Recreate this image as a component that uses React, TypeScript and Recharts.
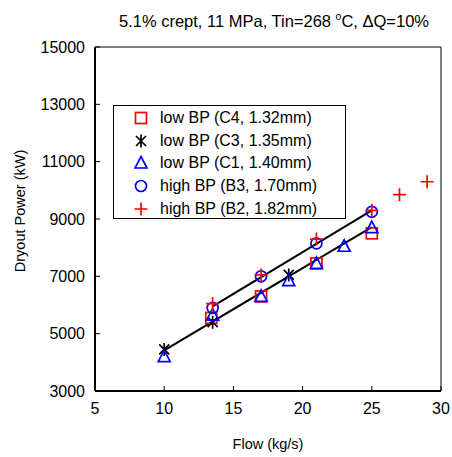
import React from 'react';
import {
  ComposedChart, Scatter, XAxis, YAxis, ReferenceArea,
} from 'recharts';

// flow (kg/s) and dryout power (kW)
const c4Flow = [13.4, 17, 21, 25];
const c4Power = [5550, 6300, 7450, 8500];

const c3Flow = [10, 13.5, 19];
const c3Power = [4450, 5400, 7050];

const c1Flow = [10, 13.5, 17, 19, 21, 23, 25];
const c1Power = [4200, 5650, 6300, 6850, 7450, 8050, 8700];

const b3Flow = [13.5, 17, 21, 25];
const b3Power = [5900, 7000, 8150, 9250];

const b2Flow = [13.5, 17, 21, 25, 27, 29];
const b2Power = [6050, 7050, 8300, 9300, 9850, 10300];

// the two straight fits
const highFitFlow = [13.5, 25];
const highFitPower = [5950, 9300];
const lowFitFlow = [10, 25];
const lowFitPower = [4420, 8720];

const xTicks = [5, 10, 15, 20, 25, 30];
const yTicks = [3000, 5000, 7000, 9000, 11000, 13000, 15000];

const FONT = '"Liberation Sans", Arial, sans-serif';

const toPts = (xs: number[], ys: number[]) => xs.map((x, i) => ({ x, y: ys[i] }));

const SERIES = [
  { key: 'c4', name: 'low BP (C4, 1.32mm)', color: '#ff0000', mark: 'square', data: toPts(c4Flow, c4Power) },
  { key: 'c3', name: 'low BP (C3, 1.35mm)', color: '#000000', mark: 'star', data: toPts(c3Flow, c3Power) },
  { key: 'c1', name: 'low BP (C1, 1.40mm)', color: '#0000ff', mark: 'triangle', data: toPts(c1Flow, c1Power) },
  { key: 'b3', name: 'high BP (B3, 1.70mm)', color: '#0000ff', mark: 'circle', data: toPts(b3Flow, b3Power) },
  { key: 'b2', name: 'high BP (B2, 1.82mm)', color: '#ff0000', mark: 'plus', data: toPts(b2Flow, b2Power) },
];

function Marker({ cx, cy, mark, color }: any) {
  if (cx == null || cy == null) return null;
  const sw = 1.7;
  if (mark === 'square') {
    return <rect x={cx - 5.5} y={cy - 5.5} width={11} height={11} fill="none" stroke={color} strokeWidth={sw} />;
  }
  if (mark === 'triangle') {
    return <path d={`M${cx},${cy - 6.5}L${cx + 6},${cy + 5}L${cx - 6},${cy + 5}Z`} fill="none" stroke={color} strokeWidth={sw} />;
  }
  if (mark === 'circle') {
    return <circle cx={cx} cy={cy} r={5.5} fill="none" stroke={color} strokeWidth={sw} />;
  }
  if (mark === 'plus') {
    return <path d={`M${cx - 6.5},${cy}H${cx + 6.5}M${cx},${cy - 6.5}V${cy + 6.5}`} stroke={color} strokeWidth={sw} />;
  }
  // asterisk
  return (
    <path
      d={`M${cx - 5},${cy - 5}L${cx + 5},${cy + 5}M${cx - 5},${cy + 5}L${cx + 5},${cy - 5}M${cx},${cy - 6.5}V${cy + 6.5}`}
      stroke={color}
      strokeWidth={sw}
    />
  );
}

function LegendBox() {
  return (
    <div style={{
      position: 'absolute', left: 113, top: 105,
      border: '1px solid #000', background: '#fff', width: 233, height: 114,
      boxSizing: 'border-box', paddingTop: 1, fontFamily: FONT, fontSize: 16,
    }}>
      {SERIES.map((s) => (
        <div key={s.key} style={{ display: 'flex', alignItems: 'center', height: 22.6 }}>
          <svg width={46} height={20} style={{ flex: 'none' }}>
            <Marker cx={27} cy={10} mark={s.mark} color={s.color} />
          </svg>
          <span style={{ color: '#000' }}>{s.name}</span>
        </div>
      ))}
    </div>
  );
}

export default function App() {
  return (
    <div style={{ position: 'absolute', left: 0, top: 0, width: 452, height: 457, background: '#fff', fontFamily: FONT }}>
      <div style={{
        position: 'absolute', left: 0, width: 548, top: 10, textAlign: 'center',
        fontSize: 16.5, color: '#000', whiteSpace: 'nowrap',
      }}>
        5.1% crept, 11 MPa, Tin=268 <sup style={{ fontSize: 10.5 }}>o</sup>C, ΔQ=10%
      </div>
      <ComposedChart
        width={452}
        height={457}
        margin={{ top: 47, right: 11, bottom: 26, left: 40 }}
      >
        <XAxis
          dataKey="x"
          type="number"
          domain={[5, 30]}
          ticks={xTicks}
          allowDataOverflow
          tickSize={-5}
          tickMargin={17}
          height={40}
          axisLine={{ stroke: '#000', strokeWidth: 2 }}
          tickLine={{ stroke: '#000' }}
          tick={{ fill: '#000', fontSize: 16, fontFamily: FONT }}
          label={{ value: 'Flow (kg/s)', position: 'insideBottom', offset: -18, fill: '#000', fontSize: 14.5, fontFamily: FONT }}
        />
        <YAxis
          dataKey="y"
          type="number"
          domain={[3000, 15000]}
          ticks={yTicks}
          allowDataOverflow
          width={55}
          tickSize={-5}
          tickMargin={15}
          axisLine={{ stroke: '#000', strokeWidth: 2 }}
          tickLine={{ stroke: '#000' }}
          tick={{ fill: '#000', fontSize: 16, fontFamily: FONT }}
          label={{ value: 'Dryout Power (kW)', angle: -90, position: 'insideLeft', offset: -20, dy: -8, fill: '#000', fontSize: 14.5, fontFamily: FONT, style: { textAnchor: 'middle' } }}
        />
        <ReferenceArea x1={5} x2={30} y1={3000} y2={15000} fill="none" stroke="#000" strokeWidth={1} ifOverflow="visible" />
        <Scatter
          data={toPts(highFitFlow, highFitPower)}
          line={{ stroke: '#000', strokeWidth: 2 }}
          shape={() => null}
          legendType="none"
          isAnimationActive={false}
        />
        <Scatter
          data={toPts(lowFitFlow, lowFitPower)}
          line={{ stroke: '#000', strokeWidth: 2 }}
          shape={() => null}
          legendType="none"
          isAnimationActive={false}
        />
        {SERIES.map((s) => (
          <Scatter
            key={s.key}
            name={s.name}
            data={s.data}
            isAnimationActive={false}
            shape={(p: any) => <Marker cx={p.cx} cy={p.cy} mark={s.mark} color={s.color} />}
          />
        ))}
      </ComposedChart>
      <LegendBox />
    </div>
  );
}
